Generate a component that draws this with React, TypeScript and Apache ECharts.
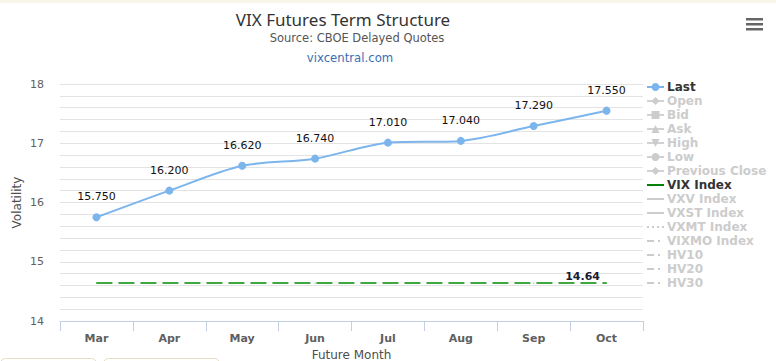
import React, { useEffect, useRef } from "react";
import * as echarts from "echarts";

const months = ["Mar", "Apr", "May", "Jun", "Jul", "Aug", "Sep", "Oct"];
const lastValues = [15.75, 16.2, 16.62, 16.74, 17.01, 17.04, 17.29, 17.55];
const vixIndexValues = [14.64, 14.64, 14.64, 14.64, 14.64, 14.64, 14.64, 14.64];
const legendNames = [
  "Last", "Open", "Bid", "Ask", "High", "Low", "Previous Close",
  "VIX Index", "VXV Index", "VXST Index", "VXMT Index", "VIXMO Index", "HV10", "HV20", "HV30",
];
const FONT = "'DejaVu Sans', sans-serif";

const SOLID_ICON = "path://M0,0 L17,0 L17,2 L0,2 Z";
const DOTTED_ICON = "path://M0,0 L2,0 L2,2 L0,2 Z M5,0 L7,0 L7,2 L5,2 Z M10,0 L12,0 L12,2 L10,2 Z M15,0 L17,0 L17,2 L15,2 Z";
const DASHDOT_ICON = "path://M0,0 L7,0 L7,2 L0,2 Z M11,0 L13,0 L13,2 L11,2 Z M16.9,0 L17,0 L17,2 L16.9,2 Z";

export default function App() {
  const ref = useRef<HTMLDivElement>(null);
  useEffect(() => {
    if (!ref.current) return;
    const chart = echarts.init(ref.current, undefined, { renderer: "svg" });

    const hiddenSeries = [
      { name: "Open", symbol: "diamond", type: "solid" },
      { name: "Bid", symbol: "rect", type: "solid" },
      { name: "Ask", symbol: "triangle", type: "solid" },
      { name: "High", symbol: "path://M0,0 L10,0 L5,10 Z", type: "solid" },
      { name: "Low", symbol: "circle", type: "solid" },
      { name: "Previous Close", symbol: "diamond", type: "solid" },
      { name: "VXV Index", symbol: "none", type: "solid" },
      { name: "VXST Index", symbol: "none", type: "solid" },
      { name: "VXMT Index", symbol: "none", type: "dotted" },
      { name: "VIXMO Index", symbol: "none", type: [6, 3, 2, 3] },
      { name: "HV10", symbol: "none", type: [6, 3, 2, 3] },
      { name: "HV20", symbol: "none", type: [6, 3, 2, 3] },
      { name: "HV30", symbol: "none", type: [6, 3, 2, 3] },
    ].map((s) => ({
      name: s.name,
      type: "line",
      data: [],
      symbol: s.symbol,
      symbolSize: 6,
      lineStyle: { type: s.type, width: 2, color: "#999" },
      itemStyle: { color: "#999" },
    }));

    const iconFor: Record<string, string> = {
      "VIX Index": SOLID_ICON,
      "VXV Index": SOLID_ICON,
      "VXST Index": SOLID_ICON,
      "VXMT Index": DOTTED_ICON,
      "VIXMO Index": DASHDOT_ICON,
      HV10: DASHDOT_ICON,
      HV20: DASHDOT_ICON,
      HV30: DASHDOT_ICON,
    };

    const selected: Record<string, boolean> = {};
    legendNames.forEach((n) => (selected[n] = n === "Last" || n === "VIX Index"));

    chart.setOption({
      animation: false,
      backgroundColor: "#ffffff",
      textStyle: { fontFamily: FONT },
      grid: { left: 60, right: 133, top: 84, bottom: 40, outerBoundsMode: "none", containLabel: false },
      legend: {
        orient: "vertical",
        left: 641,
        top: 75,
        itemWidth: 17,
        itemHeight: 10,
        itemGap: 0,
        inactiveColor: "#cccccc",
        selectedMode: true,
        selected,
        data: legendNames.map((n) =>
          iconFor[n]
            ? n === "VIX Index"
              ? { name: n, icon: iconFor[n], itemStyle: { color: "#008000" } }
              : { name: n, icon: iconFor[n] }
            : { name: n }
        ),
        textStyle: {
          fontFamily: FONT,
          fontSize: 12,
          fontWeight: "bold",
          color: "#333333",
          lineHeight: 14,
          padding: [0, 0, 0, -2],
        },
      },
      xAxis: {
        type: "category",
        data: months,
        boundaryGap: true,
        axisLine: { lineStyle: { color: "#C0D0E0", width: 1 } },
        axisTick: { show: true, length: 10, lineStyle: { color: "#C0D0E0" } },
        axisLabel: { color: "#606060", fontSize: 11, fontWeight: "bold", margin: 12, fontFamily: FONT },
        name: "Future Month",
        nameLocation: "middle",
        nameGap: 25,
        nameTextStyle: { color: "#4d4d4d", fontSize: 12, fontFamily: FONT },
        splitLine: { show: false },
      },
      yAxis: {
        type: "value",
        min: 14,
        max: 18,
        interval: 1,
        axisLine: { show: false },
        axisTick: { show: false },
        axisLabel: { color: "#606060", fontSize: 11, margin: 16, fontFamily: FONT },
        splitLine: { lineStyle: { color: "#e3e3e3", width: 1 } },
        minorTick: { show: false, splitNumber: 5 },
        minorSplitLine: { show: true, lineStyle: { color: "#e3e3e3", width: 1 } },
        name: "Volatility",
        nameLocation: "middle",
        nameGap: 37,
        nameMoveOverlap: false,
        nameTextStyle: { color: "#4d4d4d", fontSize: 12, fontFamily: FONT },
      },
      series: [
        {
          name: "Last",
          type: "line",
          data: lastValues,
          smooth: 0.3,
          symbol: "circle",
          symbolSize: 8,
          showSymbol: true,
          z: 5,
          lineStyle: { color: "#7cb5ec", width: 2 },
          itemStyle: { color: "#7cb5ec" },
          label: {
            show: true,
            position: "top",
            distance: 11,
            color: "#111111",
            fontSize: 11,
            fontFamily: FONT,
            formatter: (p: any) => Number(p.value).toFixed(3),
          },
        },
        ...hiddenSeries.slice(0, 6),
        {
          name: "VIX Index",
          type: "line",
          data: vixIndexValues.map((v, i) =>
            i === vixIndexValues.length - 1
              ? { value: v, label: { show: true } }
              : { value: v }
          ),
          symbol: "circle",
          symbolSize: 1,
          showSymbol: true,
          z: 4,
          lineStyle: { color: "#3fa83f", width: 2, type: [16, 6] },
          itemStyle: { color: "#3fa83f" },
          label: {
            show: false,
            position: "top",
            distance: 1,
            offset: [-24, 0],
            color: "#1a1a33",
            fontSize: 11,
            fontWeight: "bold",
            fontFamily: FONT,
            textBorderColor: "#ffffff",
            textBorderWidth: 2,
          },
        },
        ...hiddenSeries.slice(6),
      ],
      graphic: [
        { type: "rect", left: 0, top: 0, shape: { width: 776, height: 3 }, style: { fill: "#f8f5ea" }, silent: true },
        {
          type: "text", x: 343, y: 19,
          style: { text: "VIX Futures Term Structure", fontSize: 17, fill: "#333333", fontFamily: "'Noto Sans', sans-serif", align: "center", verticalAlign: "middle" },
        },
        {
          type: "text", x: 357, y: 38,
          style: { text: "Source: CBOE Delayed Quotes", fontSize: 11.5, fill: "#555555", fontFamily: FONT, align: "center", verticalAlign: "middle" },
        },
        {
          type: "text", x: 350, y: 58,
          style: { text: "vixcentral.com", fontSize: 11.7, fill: "#3a6eb5", fontFamily: FONT, align: "center", verticalAlign: "middle" },
        },
        { type: "rect", shape: { x: 746, y: 18, width: 17, height: 2.5 }, style: { fill: "#666666" } },
        { type: "rect", shape: { x: 746, y: 23, width: 17, height: 2.5 }, style: { fill: "#666666" } },
        { type: "rect", shape: { x: 746, y: 28, width: 17, height: 2.5 }, style: { fill: "#666666" } },
        { type: "rect", shape: { x: 0.5, y: 358.5, width: 96, height: 10, r: [5, 5, 0, 0] }, style: { fill: "#ffffff", stroke: "#e6dcc4", lineWidth: 1 } },
        { type: "rect", shape: { x: 103.5, y: 358.5, width: 116, height: 10, r: [5, 5, 0, 0] }, style: { fill: "#ffffff", stroke: "#e6dcc4", lineWidth: 1 } },
      ],
    });
    return () => chart.dispose();
  }, []);
  return (
    <div
      ref={ref}
      style={{ position: "absolute", left: 0, top: 0, width: 776, height: 361 }}
    />
  );
}
